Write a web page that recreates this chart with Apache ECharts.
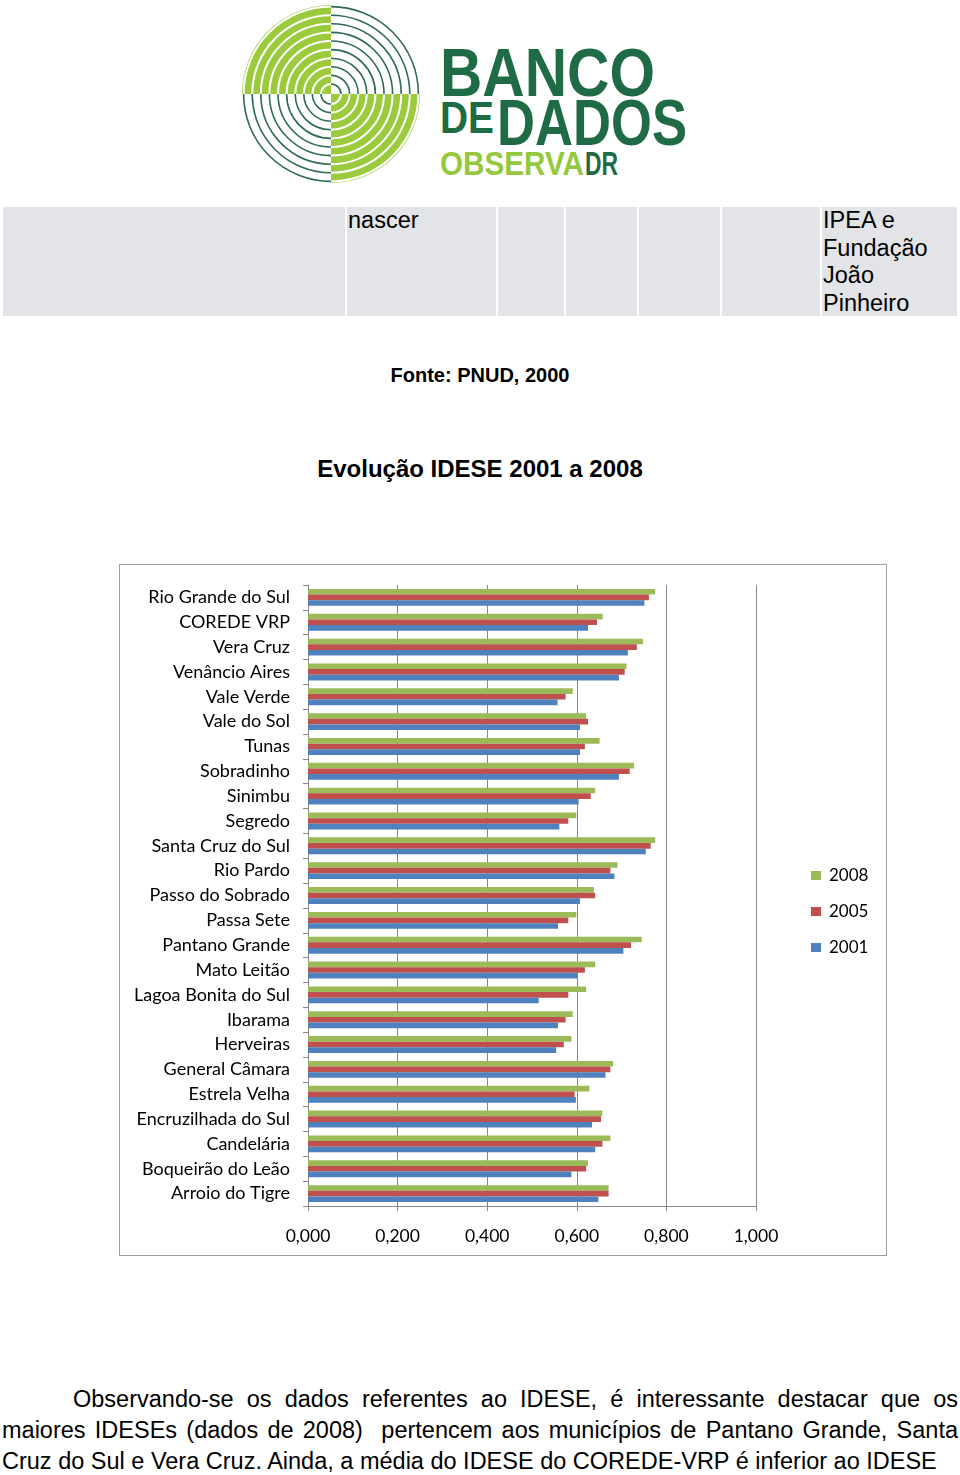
<!DOCTYPE html>
<html><head><meta charset="utf-8">
<script src="https://cdn.jsdelivr.net/npm/echarts@6/dist/echarts.min.js"></script>
<style>
html,body{margin:0;padding:0;background:#fff;}
body{width:960px;height:1475px;position:relative;overflow:hidden;font-family:"Liberation Sans",Arial,sans-serif;color:#000;}
.abs{position:absolute;}
#band{left:3px;top:207px;width:954px;height:109px;background:#e2e4e8;}
.sep{position:absolute;top:0;width:2px;height:109px;background:#fff;}
#chart{left:119px;top:564px;width:766px;height:690px;border:1px solid #a0a0a0;}
#para{left:2px;top:1384px;width:956px;font-size:23.5px;line-height:31px;text-align:justify;}
</style></head>
<body>
<svg class="abs" style="left:0;top:0" width="960" height="200" viewBox="0 0 960 200">
  <g id="logo"></g>
  <text x="440" y="96" font-family="Liberation Sans Narrow, Liberation Sans" font-weight="bold" font-size="68" fill="#1f6b45" textLength="215" lengthAdjust="spacingAndGlyphs">BANCO</text>
  <text x="440" y="133" font-family="Liberation Sans Narrow, Liberation Sans" font-weight="bold" font-size="44" fill="#1f6b45" textLength="54" lengthAdjust="spacingAndGlyphs">DE</text>
  <text x="497" y="145" font-family="Liberation Sans Narrow, Liberation Sans" font-weight="bold" font-size="65" fill="#1f6b45" textLength="190" lengthAdjust="spacingAndGlyphs">DADOS</text>
  <text x="440" y="175" font-family="Liberation Sans Narrow, Liberation Sans" font-weight="bold" font-size="34" fill="#95c83d" textLength="144" lengthAdjust="spacingAndGlyphs">OBSERVA</text>
  <text x="585" y="175" font-family="Liberation Sans Narrow, Liberation Sans" font-weight="bold" font-size="34" fill="#1f6b45" textLength="33" lengthAdjust="spacingAndGlyphs">DR</text>
</svg>
<div id="band" class="abs">
  <div class="sep" style="left:342px"></div>
  <div class="sep" style="left:493px"></div>
  <div class="sep" style="left:561px"></div>
  <div class="sep" style="left:634px"></div>
  <div class="sep" style="left:717px"></div>
  <div class="sep" style="left:817px"></div>
  <div class="abs" style="left:345px;top:0px;font-size:23.5px;line-height:27.5px;">nascer</div>
  <div class="abs" style="left:820px;top:0px;font-size:23.5px;line-height:27.5px;">IPEA e<br>Fundação<br>João<br>Pinheiro</div>
</div>
<div class="abs" style="left:0;top:364px;width:960px;text-align:center;font-weight:bold;font-size:20px;">Fonte: PNUD, 2000</div>
<div class="abs" style="left:0;top:455px;width:960px;text-align:center;font-weight:bold;font-size:24px;">Evolução IDESE 2001 a 2008</div>
<div id="chart" class="abs"></div>
<div id="para" class="abs"><span style="padding-left:71px"></span>Observando-se os dados referentes ao IDESE, é interessante destacar que os maiores IDESEs (dados de 2008)&nbsp; pertencem aos municípios de Pantano Grande, Santa Cruz do Sul e Vera Cruz. Ainda, a média do IDESE do COREDE-VRP é inferior ao IDESE</div>
<script>
// ---- logo drawing ----
(function(){
  var g = document.getElementById('logo');
  var cx = 331, cy = 94, R = 89;
  var ns = 'http://www.w3.org/2000/svg';
  function el(tag, attrs){ var e = document.createElementNS(ns, tag); for (var k in attrs) e.setAttribute(k, attrs[k]); g.appendChild(e); return e; }
  el('path', {d:'M'+cx+' '+cy+' L'+(cx-R)+' '+cy+' A'+R+' '+R+' 0 0 1 '+cx+' '+(cy-R)+' Z', fill:'#9bcb3c'});
  el('path', {d:'M'+cx+' '+cy+' L'+(cx+R)+' '+cy+' A'+R+' '+R+' 0 0 1 '+cx+' '+(cy+R)+' Z', fill:'#9bcb3c'});
  for (var r = 10; r < R; r += 8.6) {
    el('path', {d:'M'+(cx-r)+' '+cy+' A'+r+' '+r+' 0 0 1 '+cx+' '+(cy-r), fill:'none', stroke:'#fff', 'stroke-width':2});
    el('path', {d:'M'+(cx+r)+' '+cy+' A'+r+' '+r+' 0 0 1 '+cx+' '+(cy+r), fill:'none', stroke:'#fff', 'stroke-width':2});
    el('path', {d:'M'+cx+' '+(cy-r)+' A'+r+' '+r+' 0 0 1 '+(cx+r)+' '+cy, fill:'none', stroke:'#2f6b55', 'stroke-width':1.6});
    el('path', {d:'M'+cx+' '+(cy+r)+' A'+r+' '+r+' 0 0 1 '+(cx-r)+' '+cy, fill:'none', stroke:'#2f6b55', 'stroke-width':1.6});
  }
})();

// ---- data ----
const categories = ["Rio Grande do Sul","COREDE VRP","Vera Cruz","Venâncio Aires","Vale Verde","Vale do Sol","Tunas","Sobradinho","Sinimbu","Segredo","Santa Cruz do Sul","Rio Pardo","Passo do Sobrado","Passa Sete","Pantano Grande","Mato Leitão","Lagoa Bonita do Sul","Ibarama","Herveiras","General Câmara","Estrela Velha","Encruzilhada do Sul","Candelária","Boqueirão do Leão","Arroio do Tigre"];
const idese2008 = [0.775,0.658,0.748,0.711,0.591,0.621,0.651,0.728,0.641,0.599,0.775,0.691,0.638,0.599,0.745,0.641,0.621,0.591,0.588,0.681,0.628,0.657,0.675,0.625,0.671];
const idese2005 = [0.761,0.645,0.734,0.707,0.575,0.625,0.618,0.718,0.631,0.581,0.765,0.675,0.641,0.581,0.721,0.618,0.581,0.575,0.571,0.675,0.595,0.654,0.657,0.621,0.671];
const idese2001 = [0.751,0.625,0.714,0.694,0.557,0.607,0.607,0.694,0.604,0.561,0.754,0.684,0.607,0.558,0.704,0.601,0.515,0.558,0.554,0.664,0.598,0.634,0.641,0.588,0.648];
const seriesNames = ["2008","2005","2001"];
const seriesColors = ["#9bbb59","#c0504d","#4f81bd"];

const chart = echarts.init(document.getElementById('chart'), null, {renderer:'canvas'});
const font = 'Lato';
const dataSets = [idese2008, idese2005, idese2001];
chart.setOption({
  animation: false,
  textStyle: {fontFamily: font},
  grid: {left: 188, right: 130, top: 20, bottom: 49, containLabel: false},
  legend: {
    orient: 'vertical', left: 686, top: 297,
    itemWidth: 10, itemHeight: 9, itemGap: 19,
    icon: 'rect',
    data: seriesNames,
    textStyle: {fontFamily: font, fontSize: 17, color: '#000', padding: [0,0,0,3]}
  },
  xAxis: {
    type: 'value', min: 0, max: 1, interval: 0.2,
    axisLine: {show: true, lineStyle: {color: '#868686'}},
    axisTick: {show: true, length: 5, lineStyle: {color: '#868686'}},
    splitLine: {show: true, lineStyle: {color: '#868686', width: 1}},
    axisLabel: {margin: 21, fontFamily: font, fontSize: 17.5, color: '#000',
      formatter: v => v.toFixed(3).replace('.', ',')}
  },
  yAxis: {
    type: 'category', inverse: true, data: categories,
    axisLine: {show: true, lineStyle: {color: '#868686'}},
    axisTick: {show: true, length: 5, lineStyle: {color: '#868686'}},
    axisLabel: {margin: 18, fontFamily: font, fontSize: 18, color: '#000'}
  },
  series: seriesNames.map((n, i) => ({
    name: n, type: 'bar', data: dataSets[i],
    barGap: '0%', barCategoryGap: '32%',
    itemStyle: {color: seriesColors[i]}
  }))
});
</script>
</body></html>
